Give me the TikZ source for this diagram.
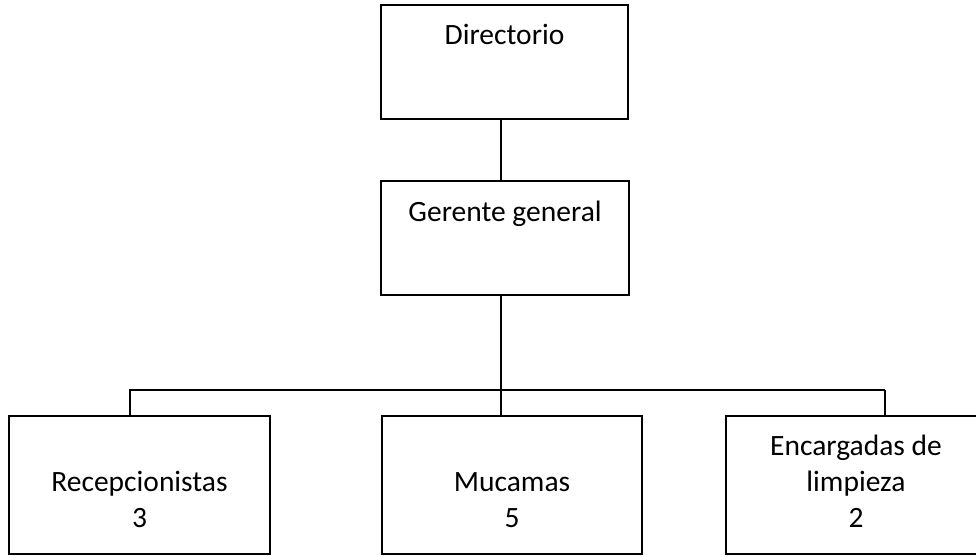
\documentclass[tikz,border=0pt]{standalone}
\usepackage{fontspec}
\setmainfont{Carlito}

\begin{document}
\begin{tikzpicture}[x=1pt,y=-1pt,
    cargo/.style={draw, line width=1.8pt, inner sep=0pt, align=center,
      font=\fontsize{29.5}{36}\selectfont},
    abajo/.style={cargo, minimum width=260pt, text height=111.5pt, text depth=26.5pt},
    linea/.style={line width=1.8pt}]
    \clip (0,0) rectangle (976,556);
    \node [cargo, minimum width=247pt, text height=39.5pt, text depth=74.5pt] (dir) at (504.5,62) {Directorio};
    \node [cargo, minimum width=248pt, text height=40.5pt, text depth=73.5pt] (ger) at (505,238) {Gerente general};
    \node [abajo, minimum width=261pt] (rec) at (139.5,485) {Recepcionistas\\3};
    \node [abajo] (muc) at (512,485) {Mucamas\\5};
    \node [abajo] (enc) at (856,485) {Encargadas de\\limpieza\\2};
    % lineas del organigrama
    \coordinate (bif) at (501,390);
    \coordinate (bifizq) at (130,390);
    \coordinate (bifder) at (885,390);
    \draw [linea] (dir.south -| bif) -- (ger.north -| bif);
    \draw [linea] (ger.south -| bif) -- (bif);
    \draw [linea] (bifizq |- rec.north) -- (bifizq) -- (bifder);
    \draw [linea] (bif) -- (bif |- muc.north);
    \draw [linea] (bifder) -- (bifder |- enc.north);
\end{tikzpicture}
\end{document}
